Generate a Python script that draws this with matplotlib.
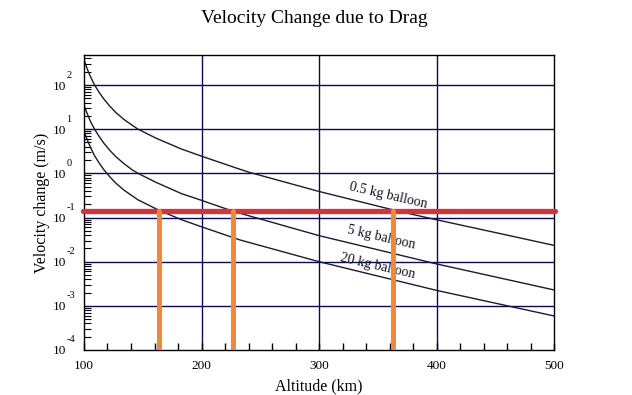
import matplotlib
matplotlib.use("Agg")
import matplotlib.pyplot as plt
from matplotlib.ticker import LogLocator, NullFormatter, FixedLocator, MultipleLocator
from matplotlib.transforms import blended_transform_factory, offset_copy

plt.rcParams['font.family'] = ['Liberation Serif', 'DejaVu Serif']

# values (altitude km -> velocity change m/s)
alt_05 = [100, 102, 104, 106, 109, 113, 117, 122, 127, 134, 141, 146, 161, 183, 200,
          233, 241, 300, 368, 400, 450, 500]
dv_05 = [380, 263, 191, 145, 100, 67.6, 47.9, 33.1, 24.0, 16.6, 12.3, 10, 6.31, 3.55, 2.45,
         1.23, 1.05, 0.389, 0.138, 0.089, 0.0457, 0.0234]

alt_5 = [100, 102, 104, 106, 109, 113, 117, 122, 127, 134, 141, 146, 161, 183, 200,
         227, 300, 400, 500]
dv_5 = [35.5, 25.1, 18.6, 14.1, 10, 6.76, 4.79, 3.31, 2.40, 1.66, 1.20, 1.0, 0.631, 0.347, 0.245,
        0.138, 0.0389, 0.0089, 0.00229]

alt_20 = [100, 102, 104, 106, 109, 113, 117, 122, 127, 134, 141, 146, 164, 183, 200,
          233, 300, 400, 500]
dv_20 = [9.12, 6.46, 4.79, 3.63, 2.51, 1.70, 1.20, 0.832, 0.603, 0.417, 0.309, 0.251, 0.145, 0.0891, 0.0617,
         0.0309, 0.01, 0.00224, 0.00059]

threshold = 0.138            # red line
cross_alts = [164, 227, 363]  # orange markers
decades = [-4, -3, -2, -1, 0, 1, 2]
x_ticks = [100, 200, 300, 400, 500]

labels = ["0.5 kg balloon", "5 kg balloon", "20 kg balloon"]
label_pos = [(359, 0.31), (353, 0.036), (350, 0.0078)]

fig = plt.figure(figsize=(6.32, 3.95), dpi=100)
ax = fig.add_axes([84/632, 45/395, 470/632, 295/395])

navy = "#0a0a55"
curve_col = "#1a1a33"

ax.set_yscale("log")
ax.set_xlim(100, 500)
ax.set_ylim(1e-4, 10**2.68)

# grid
for e in decades[1:]:
    ax.axhline(10.0**e, color=navy, lw=1, zorder=1)
for x in x_ticks[1:-1]:
    ax.axvline(x, color=navy, lw=1, zorder=1)

ax.plot(alt_05, dv_05, color=curve_col, lw=1, zorder=2)
ax.plot(alt_5, dv_5, color=curve_col, lw=1, zorder=2)
ax.plot(alt_20, dv_20, color=curve_col, lw=1, zorder=2)

for (lx, ly), t in zip(label_pos, labels):
    ax.text(lx, ly, t, fontsize=10, rotation=-13, ha='center', va='center',
            color="#111122", zorder=3)

ax.plot([99.3, 500.5], [threshold, threshold], color="#d3333a", lw=3.8,
        solid_capstyle='round', clip_on=False, zorder=4)
for a in cross_alts:
    ax.plot([a, a], [1e-4, threshold], color="#f0883a", lw=3.6,
            solid_capstyle='round', zorder=5)

# ticks
ax.xaxis.set_major_locator(FixedLocator(x_ticks))
ax.xaxis.set_minor_locator(MultipleLocator(20))
ax.tick_params(axis='x', which='both', direction='in', length=5, width=1,
               labelsize=9.5, pad=7)
ax.yaxis.set_major_locator(FixedLocator([10.0**e for e in decades]))
ax.yaxis.set_minor_locator(LogLocator(base=10, subs=[2, 3, 4, 5, 6, 7, 8, 9], numticks=20))
ax.yaxis.set_minor_formatter(NullFormatter())
ax.set_yticklabels(["10"] * len(decades))
ax.tick_params(axis='y', which='major', length=0, labelsize=9.5, pad=13)
ax.tick_params(axis='y', which='minor', direction='in', length=5, width=0.8)

tr = blended_transform_factory(ax.transAxes, ax.transData)
tr = offset_copy(tr, fig=fig, x=0, y=10, units='dots')
for e in decades:
    ax.text(-0.037, 10.0**e, str(e), transform=tr, fontsize=7.5,
            ha='left', va='center')

for s in ax.spines.values():
    s.set_linewidth(1)

ax.set_xlabel("Altitude (km)", fontsize=11.5, labelpad=5)
ax.set_ylabel("Velocity change (m/s)", fontsize=11.5, labelpad=2)
fig.text(0.497, 0.952, "Velocity Change due to Drag", fontsize=14,
         ha='center', va='center')

fig.savefig("out.png", dpi=100)
